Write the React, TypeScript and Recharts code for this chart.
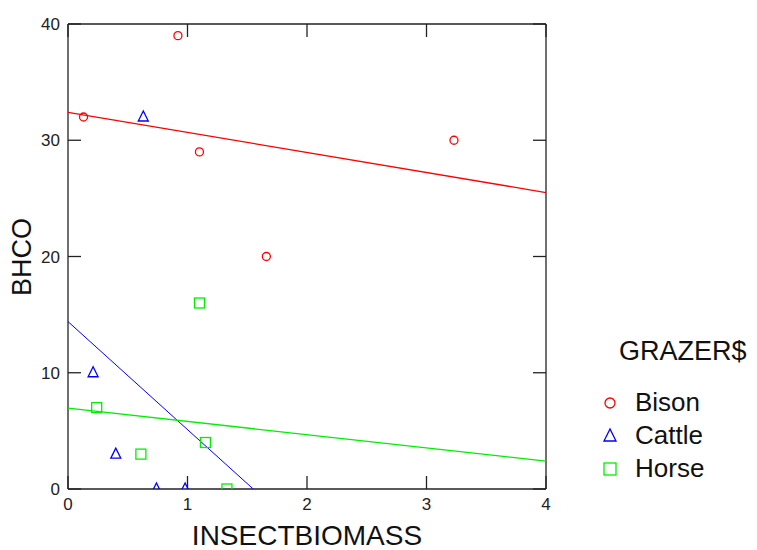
import React from 'react';
import { ScatterChart, Scatter, XAxis, YAxis, Label } from 'recharts';

const bison = [
  { x: 0.13, y: 32 },
  { x: 0.92, y: 39 },
  { x: 1.1, y: 29 },
  { x: 1.66, y: 20 },
  { x: 3.23, y: 30 },
];
const cattle = [
  { x: 0.63, y: 32 },
  { x: 0.21, y: 10 },
  { x: 0.4, y: 3 },
  { x: 0.74, y: 0 },
  { x: 0.98, y: 0 },
];
const horse = [
  { x: 0.24, y: 7 },
  { x: 1.1, y: 16 },
  { x: 0.61, y: 3 },
  { x: 1.15, y: 4 },
  { x: 1.33, y: 0 },
];

// fitted lines, endpoints
const bisonFit = [
  { x: 0, y: 32.4 },
  { x: 4, y: 25.5 },
];
const cattleFit = [
  { x: 0, y: 14.4 },
  { x: 1.55, y: 0 },
];
const horseFit = [
  { x: 0, y: 6.95 },
  { x: 4, y: 2.4 },
];

const xTicks = [0, 1, 2, 3, 4];
const yTicks = [0, 10, 20, 30, 40];
const groups = ['Bison', 'Cattle', 'Horse'];

const RED = '#ff0000';
const BLUE = '#0000ff';
const GREEN = '#00ee00';
const AXIS = '#222';
const FONT = '"Liberation Sans", Arial, sans-serif';

const CircleDot = (props: any) => (
  <circle cx={props.cx} cy={props.cy} r={4} fill="none" stroke={RED} strokeWidth={1.3} />
);
const TriangleDot = (props: any) => {
  const { cx, cy } = props;
  return (
    <polygon
      points={`${cx},${cy - 6} ${cx - 5},${cy + 4} ${cx + 5},${cy + 4}`}
      fill="none"
      stroke={BLUE}
      strokeWidth={1.3}
    />
  );
};
const SquareDot = (props: any) => (
  <rect x={props.cx - 5} y={props.cy - 5} width={10} height={10} fill="none" stroke={GREEN} strokeWidth={1.3} />
);
const NoDot = () => <g />;

const tickStyle = { fontSize: 17, fill: '#222', fontFamily: FONT };
const blank = () => '';

const LegendBox = () => (
  <div style={{ position: 'absolute', left: 601, top: 334, fontFamily: FONT, color: '#111' }}>
    <div style={{ fontSize: 27, marginLeft: 18, lineHeight: '34px' }}>GRAZER$</div>
    <div style={{ height: 18 }} />
    {groups.map((g, i) => (
      <div key={g} style={{ display: 'flex', alignItems: 'center', height: 33, fontSize: 26 }}>
        <svg width={20} height={20} style={{ marginRight: 14 }}>
          {i === 0 && <circle cx={9} cy={10} r={5} fill="none" stroke={RED} strokeWidth={1.3} />}
          {i === 1 && <polygon points="9,3 3,15 15,15" fill="none" stroke={BLUE} strokeWidth={1.3} />}
          {i === 2 && <rect x={3} y={4} width={12} height={12} fill="none" stroke={GREEN} strokeWidth={1.3} />}
        </svg>
        <span>{g}</span>
      </div>
    ))}
  </div>
);

export default function App() {
  return (
    <div style={{ position: 'absolute', left: 0, top: 0, width: 757, height: 550, background: '#fff' }}>
      <ScatterChart width={757} height={550} margin={{ top: 23, right: 210, bottom: 31, left: 28 }}>
        <XAxis
          xAxisId="b"
          dataKey="x"
          type="number"
          domain={[0, 4]}
          ticks={xTicks}
          tickSize={-13}
          tickMargin={22}
          height={30}
          tick={tickStyle}
          stroke={AXIS}
          strokeWidth={1.3}
          allowDataOverflow
        >
          <Label
            content={() => (
              <text x={307} y={545} textAnchor="middle" fontSize={28} fontFamily={FONT} fill="#111">
                INSECTBIOMASS
              </text>
            )}
          />
        </XAxis>
        <XAxis
          xAxisId="t"
          orientation="top"
          dataKey="x"
          type="number"
          domain={[0, 4]}
          ticks={xTicks}
          tickSize={-13}
          tickFormatter={blank}
          height={1}
          stroke={AXIS}
          strokeWidth={1.3}
          allowDataOverflow
        />
        <YAxis
          yAxisId="l"
          dataKey="y"
          type="number"
          domain={[0, 40]}
          ticks={yTicks}
          tickSize={-13}
          tickMargin={21}
          width={40}
          tick={tickStyle}
          stroke={AXIS}
          strokeWidth={1.3}
          allowDataOverflow
        >
          <Label
            content={() => (
              <text
                x={22}
                y={257}
                transform="rotate(-90 22 257)"
                textAnchor="middle"
                dominantBaseline="central"
                fontSize={27}
                fontFamily={FONT}
                fill="#111"
              >
                BHCO
              </text>
            )}
          />
        </YAxis>
        <YAxis
          yAxisId="r"
          orientation="right"
          dataKey="y"
          type="number"
          domain={[0, 40]}
          ticks={yTicks}
          tickSize={-13}
          tickFormatter={blank}
          width={1}
          stroke={AXIS}
          strokeWidth={1.3}
          allowDataOverflow
        />
        <Scatter xAxisId="t" yAxisId="r" data={bisonFit} shape={NoDot} isAnimationActive={false} />
        <Scatter xAxisId="b" yAxisId="l" data={bisonFit} line={{ stroke: RED, strokeWidth: 1.3 }} shape={NoDot} isAnimationActive={false} />
        <Scatter xAxisId="b" yAxisId="l" data={cattleFit} line={{ stroke: BLUE, strokeWidth: 1 }} shape={NoDot} isAnimationActive={false} />
        <Scatter xAxisId="b" yAxisId="l" data={horseFit} line={{ stroke: GREEN, strokeWidth: 1.3 }} shape={NoDot} isAnimationActive={false} />
        <Scatter xAxisId="b" yAxisId="l" name="Bison" data={bison} shape={CircleDot} isAnimationActive={false} />
        <Scatter xAxisId="b" yAxisId="l" name="Cattle" data={cattle} shape={TriangleDot} isAnimationActive={false} />
        <Scatter xAxisId="b" yAxisId="l" name="Horse" data={horse} shape={SquareDot} isAnimationActive={false} />
      </ScatterChart>
      <LegendBox />
    </div>
  );
}
